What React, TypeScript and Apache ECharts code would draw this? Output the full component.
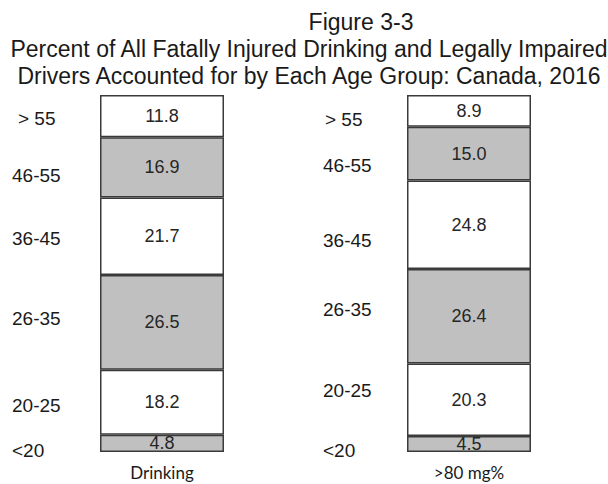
import React, { useEffect, useRef } from "react";
import * as echarts from "echarts";

const ageGroups = ["<20", "20-25", "26-35", "36-45", "46-55", "> 55"];
const columns = ["Drinking", ">80 mg%"];
const drinking = [4.8, 18.2, 26.5, 21.7, 16.9, 11.8];
const impaired = [4.5, 20.3, 26.4, 24.8, 15.0, 8.9];
const titleLines = [
  "Figure 3-3",
  "Percent of All Fatally Injured Drinking and Legally Impaired",
  "Drivers Accounted for by Each Age Group: Canada, 2016",
];

// layout of the age labels (pixels), bottom to top
const leftLabelPos = [
  [12, 450], [12, 405], [12, 318], [12, 238], [12, 175], [18, 118],
];
const rightLabelPos = [
  [323, 450], [323, 390], [323, 309], [323, 240], [323, 165], [325, 119],
];

const fills = ["#c0c0c0", "#ffffff"];

export default function App() {
  const ref = useRef<HTMLDivElement>(null);
  useEffect(() => {
    if (!ref.current) return;
    const chart = echarts.init(ref.current, undefined, { renderer: "svg" });
    const font = "Arial, 'Liberation Sans', sans-serif";
    const dataSets = [drinking, impaired];
    const series: any[] = [];
    dataSets.forEach((vals, gi) => {
      vals.forEach((v, j) => {
        series.push({
          type: "bar",
          name: ageGroups[j] + "-" + gi,
          xAxisIndex: gi,
          yAxisIndex: gi,
          stack: "s" + gi,
          barWidth: "100%",
          data: [v],
          itemStyle: {
            color: fills[j % 2],
            borderColor: "#3a3a3a",
            borderWidth: 1.5,
          },
          label: {
            show: true,
            position: "inside",
            formatter: (p: any) => Number(p.value).toFixed(1),
            color: "#262626",
            fontSize: 18,
            fontFamily: font,
          },
          emphasis: { disabled: true },
        });
      });
    });
    const graphics: any[] = [];
    [leftLabelPos, rightLabelPos].forEach((pos) => {
      ageGroups.forEach((g, j) => {
        graphics.push({
          type: "text",
          x: pos[j][0],
          y: pos[j][1],
          style: {
            text: g,
            fontSize: 19,
            fontFamily: font,
            fill: "#1a1a1a",
            textVerticalAlign: "middle",
            textAlign: "left",
          },
        });
      });
    });
    chart.setOption({
      animation: false,
      backgroundColor: "#ffffff",
      title: titleLines.map((t, i) => ({
        text: t,
        left: i === 0 ? 356 : 304,
        top: [5, 32, 59][i],
        textAlign: "center",
        textStyle: {
          fontSize: 23,
          fontWeight: "normal",
          fontFamily: font,
          color: "#1a1a1a",
        },
      })),
      grid: [
        { left: 100, width: 124, top: 95, bottom: 32 },
        { left: 407, width: 124, top: 95, bottom: 32 },
      ],
      xAxis: [0, 1].map((i) => ({
        type: "category",
        gridIndex: i,
        data: [columns[i]],
        axisLine: { show: false },
        axisTick: { show: false },
        axisLabel: {
          color: "#1a1a1a",
          fontSize: 17,
          fontFamily: "Lato, 'Open Sans', sans-serif",
          margin: 12,
        },
      })),
      yAxis: [0, 1].map((i) => ({
        type: "value",
        gridIndex: i,
        min: 0,
        max: 99.9,
        show: false,
        splitLine: { show: false },
      })),
      series,
      graphic: graphics,
    });
    return () => chart.dispose();
  }, []);
  return (
    <div
      ref={ref}
      style={{ position: "fixed", left: 0, top: 0, width: 608, height: 484 }}
    />
  );
}
